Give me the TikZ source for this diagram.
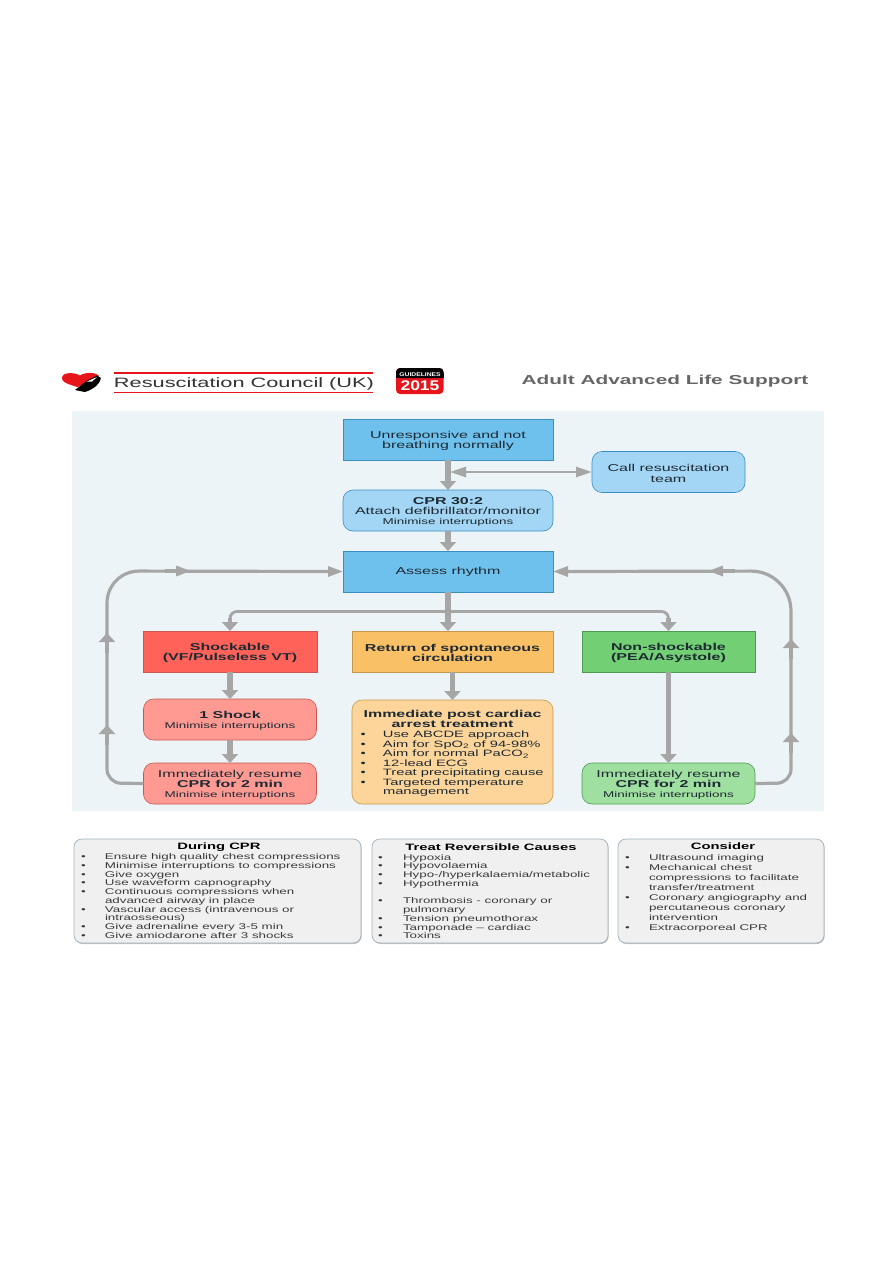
\documentclass[tikz,border=0pt]{standalone}
\usepackage{fontspec}
\setmainfont[FakeStretch=1.6]{Liberation Sans}
\newfontfamily\midf[FakeStretch=1.25]{Liberation Sans}
\usetikzlibrary{arrows.meta,shadows,positioning,calc}
\definecolor{bgpanel}{HTML}{EDF4F8}
\definecolor{blueA}{HTML}{6EC1EC}
\definecolor{blueB}{HTML}{A3D6F5}
\definecolor{blueE}{HTML}{3B8FBE}
\definecolor{redA}{HTML}{FF6259}
\definecolor{redB}{HTML}{FF9A93}
\definecolor{redE}{HTML}{C8574F}
\definecolor{orA}{HTML}{FAC066}
\definecolor{orB}{HTML}{FDD59A}
\definecolor{orE}{HTML}{C49A4A}
\definecolor{grA}{HTML}{72CF74}
\definecolor{grB}{HTML}{9FDF9F}
\definecolor{grE}{HTML}{4E9E52}
\definecolor{greyF}{HTML}{F0F0F0}
\definecolor{greyE}{HTML}{9FB0BC}
\definecolor{arrowc}{HTML}{A6A6A6}
\definecolor{txt}{HTML}{1E2A33}
\definecolor{txtg}{HTML}{3A3A3A}
\definecolor{rcred}{HTML}{E8141C}
\newcommand{\mainf}{\fontsize{10}{10.2}\selectfont}
\newcommand{\smallf}{\fontsize{8.4}{9}\selectfont}
\newlength{\bw}
\newcommand{\setbw}[1]{\global\bw=#1\relax}
\newcommand{\bi}[1]{\makebox[\bw][l]{•}#1\\}
\newcommand{\bc}[1]{\hspace*{\bw}#1\\}
\newcommand{\dn}{\rule{0pt}{10pt}}
\tikzset{
  x=1pt,y=-1pt,
  every node/.style={inner sep=0pt,outer sep=0pt,text=txt},
  boxbase/.style={minimum width=#1,align=center,minimum height=41pt,font=\mainf},
  sq/.style={boxbase=#1,rectangle,draw=blueE,fill=blueA,line width=.6pt,
    drop shadow={shadow xshift=1pt,shadow yshift=-1pt,opacity=.35,fill=black}},
  rd/.style={boxbase=#1,rectangle,rounded corners=10pt,draw=blueE,fill=blueB,line width=.6pt},
  flow/.style={draw=arrowc,line width=5.5pt,-{Triangle[width=16pt,length=9pt]}},
  branch/.style={draw=arrowc,line width=2.8pt,rounded corners=7pt},
  loop/.style={draw=arrowc,line width=3.2pt},
  vtip/.style={draw=arrowc,line width=3.8pt,-{Triangle[width=16pt,length=9pt]}},
  htip/.style={draw=arrowc,line width=3.2pt,-{Triangle[width=10pt,length=15pt]}},
  greybox/.style={rectangle,rounded corners=8pt,draw=greyE,fill=greyF,line width=.7pt,
    drop shadow={shadow xshift=.7pt,shadow yshift=-1pt,opacity=.25,fill=black}},
  listtxt/.style={anchor=north west,align=left,text=txtg,font=\fontsize{8.35}{8.75}\selectfont},
  headtxt/.style={font=\fontsize{9.25}{10}\selectfont\bfseries,text=black,anchor=center},
}
\begin{document}
\begin{tikzpicture}
\useasboundingbox (0,0) rectangle (893,1263);
\fill[white] (0,0) rectangle (893,1263);
% logo
\fill[rcred] (82,389) .. controls (74,385) and (62,384) .. (62,378) .. controls (62,372) and (74,372) .. (80,375.5) .. controls (85,372) and (96,372) .. (99,376) -- (78,387) -- cycle;
\fill[black] (75,390) -- (88,380) -- (97,375.5) -- (101,378) .. controls (100,384) and (94,389) .. (85,392) -- cycle;
\fill[white] (87,381.5) -- (97,377) -- (92,381.5) -- cycle;
\draw[rcred,line width=1.5pt] (114,373) -- (373,373);
\draw[rcred,line width=1.5pt] (114,392.5) -- (373,392.5);
\node[text=black!80,font=\fontsize{13.6}{14}\selectfont] (rctitle) at (244,384) {Resuscitation Council (UK)};
\fill[rcred,rounded corners=4pt] (396,368) rectangle (443.5,394);
\fill[black,rounded corners=4pt] (396,368) rectangle (443.5,378);
\fill[black] (396,374) rectangle (443.5,378);
\node[text=white,font=\midf\fontsize{5.4}{6}\selectfont\bfseries] (badgea) at (420,374.3) {GUIDELINES};
\node[text=white,font=\midf\fontsize{14}{14}\selectfont\bfseries] (badgeb) at (420,385.8) {2015};
\node[text=black!60,font=\fontsize{13}{14}\selectfont\bfseries] (altitle) at (665,381.5) {Adult Advanced Life Support};
% panel
\fill[bgpanel] (72,411) rectangle (824,811);
% flow boxes
\node[sq=210pt] (unresp) at (448,439.5) {\dn Unresponsive and not\\breathing normally};
\node[rd=210pt] (cpr) at (448,510.5) {\dn\textbf{CPR 30:2}\\Attach defibrillator/monitor\\[-.5pt]{\smallf Minimise interruptions}};
\node[rd=153pt] (call) at (668.5,472) {\dn Call resuscitation\\team};
\node[sq=210pt] (assess) at (448,571.5) {Assess rhythm};
\node[sq=174pt,draw=redE,fill=redA,font=\mainf\bfseries] (shock) at (230,651.5) {\dn Shockable\\(VF/Pulseless VT)};
\node[sq=201pt,draw=orE,fill=orA,font=\mainf\bfseries] (rosc) at (452.5,651.5) {\dn Return of spontaneous\\circulation};
\node[sq=173pt,draw=grE,fill=grA,font=\mainf\bfseries] (nonshock) at (668.5,651.5) {\dn Non-shockable\\(PEA/Asystole)};
\node[rd=173pt,draw=redE,fill=redB] (one) at (230,719.5) {\dn\textbf{1 Shock}\\[-.5pt]{\smallf Minimise interruptions}};
\node[rd=173pt,draw=redE,fill=redB] (resumeL) at (230,783.5) {\dn Immediately resume\\\textbf{CPR for 2 min}\\[-.5pt]{\smallf Minimise interruptions}};
\node[rd=173pt,draw=grE,fill=grB] (resumeR) at (668.5,783.5) {\dn Immediately resume\\\textbf{CPR for 2 min}\\[-.5pt]{\smallf Minimise interruptions}};
\node[rd=201pt,minimum height=104pt,draw=orE,fill=orB] (post) at (452.5,752) {};
\node[font=\mainf\bfseries,align=center] (posthead) at (452.5,719) {Immediate post cardiac\\arrest treatment};
\node[anchor=north west,align=left,font=\fontsize{9.2}{9.55}\selectfont] (postlist) at (360.5,731) {\setbw{22.5pt}\bi{Use ABCDE approach}\bi{Aim for SpO\textsubscript{2} of 94-98\%}\bi{Aim for normal PaCO\textsubscript{2}}\bi{12-lead ECG}\bi{Treat precipitating cause}\bi{Targeted temperature}\bc{management}};
% flow arrows
\draw[flow] (unresp.south) -- (cpr.north);
\draw[flow] (cpr.south) -- (assess.north);
\draw[draw=arrowc,line width=2.8pt,{Triangle[width=10pt,length=16pt]}-{Triangle[width=10pt,length=16pt]}] ($(unresp.south |- call.west)+(2,0)$) -- (call.west);
\coordinate (forkB) at ($(assess.south)+(0,19.5)$);
\draw[flow] (assess.south) -- (assess.south |- rosc.north);
\draw[branch] (forkB) -| ([yshift=11pt]shock.north);
\draw[branch] (forkB) -| ([yshift=11pt]nonshock.north);
\draw[flow,line width=4.5pt] ([yshift=13pt]shock.north) -- (shock.north);
\draw[flow,line width=4.5pt] ([yshift=13pt]nonshock.north) -- (nonshock.north);
\draw[flow] (shock.south) -- (one.north);
\draw[flow] (one.south) -- (resumeL.north);
\draw[flow] (rosc.south) -- (post.north);
\draw[flow] (nonshock.south) -- (resumeR.north);
% loops
\coordinate (lL) at (107,783);
\coordinate (lLt) at (107,571);
\coordinate (rR) at (791,783);
\coordinate (rRt) at (791,571);
\draw[loop,rounded corners=14pt] (resumeL.west) -- (lL) [rounded corners=32pt] -- (lLt) [sharp corners] -- ([xshift=-15pt]assess.west);
\draw[loop,rounded corners=14pt] (resumeR.east) -- (rR) [rounded corners=40pt] -- (rRt) [sharp corners] -- ([xshift=15pt]assess.east);
\draw[htip] ([xshift=-25pt]assess.west) -- (assess.west);
\draw[htip] ([xshift=25pt]assess.east) -- (assess.east);
\coordinate (a1) at (107,745); \coordinate (a2) at (107,725);
\coordinate (a3) at (107,653); \coordinate (a4) at (107,633);
\coordinate (a5) at (165,571); \coordinate (a6) at (191,571);
\coordinate (b1) at (791,753); \coordinate (b2) at (791,733);
\coordinate (b3) at (791,659); \coordinate (b4) at (791,639);
\coordinate (b5) at (735,571); \coordinate (b6) at (708,571);
\foreach \p/\q in {a1/a2,a3/a4,b1/b2,b3/b4}{\draw[vtip] (\p) -- (\q);}
\foreach \p/\q in {a5/a6,b5/b6}{\draw[htip] (\p) -- (\q);}
% lower boxes
\node[greybox,minimum width=287pt,minimum height=104pt] (during) at (217.5,891) {};
\node[greybox,minimum width=236pt,minimum height=104pt] (treat) at (490,891) {};
\node[greybox,minimum width=206pt,minimum height=104pt] (consider) at (721,891) {};
\node[headtxt] (h1) at (219,847) {During CPR};
\node[headtxt] (h2) at (491,847.5) {Treat Reversible Causes};
\node[headtxt] (h3) at (723,846) {Consider};
\node[listtxt] (l1) at (81,853.6) {\setbw{24pt}\bi{Ensure high quality chest compressions}\bi{Minimise interruptions to compressions}\bi{Give oxygen}\bi{Use waveform capnography}\bi{Continuous compressions when}\bc{advanced airway in place}\bi{Vascular access (intravenous or}\bc{intraosseous)}\bi{Give adrenaline every 3-5 min}\bi{Give amiodarone after 3 shocks}};
\node[listtxt] (l2) at (378,854) {\setbw{25pt}\bi{Hypoxia}\bi{Hypovolaemia}\bi{Hypo-/hyperkalaemia/metabolic}\bi{Hypothermia}\hbox{}\\\bi{Thrombosis - coronary or}\bc{pulmonary}\bi{Tension pneumothorax}\bi{Tamponade – cardiac}\bi{Toxins}};
\node[listtxt,font=\fontsize{8.35}{10}\selectfont] (l3) at (625,854) {\setbw{24pt}\bi{Ultrasound imaging}\bi{Mechanical chest}\bc{compressions to facilitate}\bc{transfer/treatment}\bi{Coronary angiography and}\bc{percutaneous coronary}\bc{intervention}\bi{Extracorporeal CPR}};
\end{tikzpicture}
\end{document}
